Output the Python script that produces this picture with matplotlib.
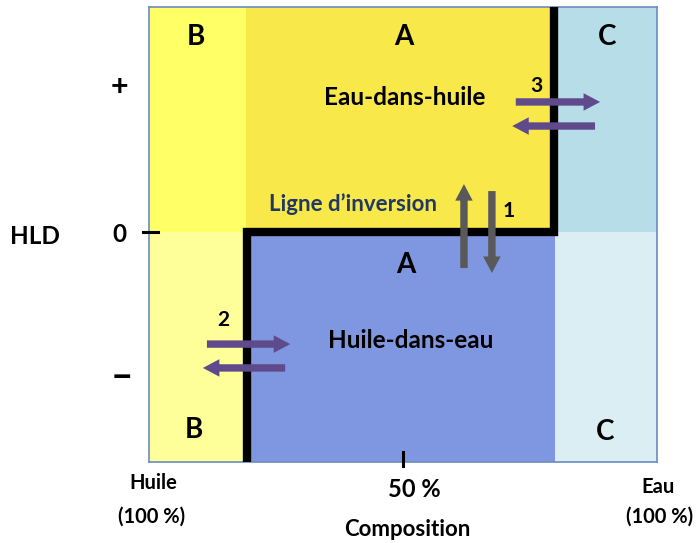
import matplotlib
matplotlib.use("Agg")
import matplotlib.pyplot as plt

plt.rcParams['font.family'] = ['Lato', 'DejaVu Sans']
plt.rcParams['font.weight'] = 'bold'

# Composition axis (0 = 100 % oil, 100 = 100 % water), HLD axis (-1 .. 1)
x_min, x_max = 0, 100
y_min, y_max = -1.022, 1.0
x_ba = 19.0     # B / A boundary
x_ac = 80.0     # A / C boundary

# inversion line (thick black)
inv_x = [79.8, 79.8, 19.35, 19.35]
inv_y = [y_max, 0.0, 0.0, y_min]

# regions: (x0, x1, y0, y1, colour)
regions = [
    (x_min, x_ba, 0.0, y_max, "#FFFF66"),
    (x_ba, x_ac, 0.0, y_max, "#F8E84A"),
    (x_ac, x_max, 0.0, y_max, "#B7DDE8"),
    (x_min, x_ba, y_min, 0.0, "#FFFF99"),
    (x_ba, x_ac, y_min, 0.0, "#7F96E0"),
    (x_ac, x_max, y_min, 0.0, "#DAEEF3"),
]

region_letters = ["B", "A", "C", "A", "B", "C"]
letter_x = [9.25, 50.2, 90.2, 50.6, 8.9, 89.8]
letter_y = [0.867, 0.867, 0.867, -0.147, -0.88, -0.889]

# arrows: (x_start, y_start, x_end, y_end, colour)
gray = "#595959"
purple = "#5F4B8B"
arrows = [
    (62.0, -0.16, 62.0, 0.213, gray),
    (67.5, 0.182, 67.5, -0.182, gray),
    (72.2, 0.578, 88.8, 0.578, purple),
    (87.8, 0.471, 71.5, 0.471, purple),
    (11.4, -0.498, 27.8, -0.498, purple),
    (26.8, -0.604, 10.6, -0.604, purple),
]
arrow_labels = ["1", "3", "2"]
arrow_label_x = [70.7, 76.2, 14.6]
arrow_label_y = [0.093, 0.649, -0.391]

fig = plt.figure(figsize=(6.99, 5.43), dpi=100)
ax = fig.add_axes([149 / 699, (543 - 462) / 543, 508 / 699, 455 / 543])
ax.set_xlim(x_min, x_max)
ax.set_ylim(y_min, y_max)
ax.set_xticks([])
ax.set_yticks([])
for s in ax.spines.values():
    s.set_color("#6A8CC0")
    s.set_linewidth(1.2)

for x0, x1, y0, y1, c in regions:
    ax.fill_between([x0, x1], y0, y1, color=c, lw=0, zorder=1)

ax.plot(inv_x, inv_y, color="black", lw=6, solid_joinstyle="miter",
        solid_capstyle="butt", zorder=3)

for t, x, y in zip(region_letters, letter_x, letter_y):
    ax.text(x, y, t, ha="center", va="center", fontsize=20, zorder=5)

ax.text(50.4, 0.6, "Eau-dans-huile", ha="center", va="center", fontsize=17.5, zorder=5)
ax.text(51.6, -0.484, "Huile-dans-eau", ha="center", va="center", fontsize=17.5, zorder=5)
ax.text(40.2, 0.124, "Ligne d\u2019inversion", ha="center", va="center",
        fontsize=16, color="#1F3864", zorder=5)

for x0, y0, x1, y1, c in arrows:
    ax.annotate("", xy=(x1, y1), xytext=(x0, y0),
                arrowprops=dict(arrowstyle="simple,head_length=0.85,head_width=0.9,tail_width=0.38",
                                mutation_scale=14, color=c, shrinkA=0, shrinkB=0, lw=0),
                zorder=6)

for t, x, y in zip(arrow_labels, arrow_label_x, arrow_label_y):
    ax.text(x, y, t, ha="center", va="center", fontsize=15, zorder=6)

# HLD axis labels
ax.text(-22.4, -0.02, "HLD", ha="center", va="center", fontsize=17.5, clip_on=False)
ax.text(-5.9, -0.009, "0", ha="center", va="center", fontsize=17.5, clip_on=False)
ax.text(-5.9, 0.644, "+", ha="center", va="center", fontsize=22, clip_on=False)
ax.text(-5.3, -0.644, "\u2013", ha="center", va="center", fontsize=28, clip_on=False)
ax.plot([-1.2, 1.8], [0, 0], color="black", lw=2.2, clip_on=False, zorder=7)

# composition axis labels
ax.plot([50, 50], [-0.978, -1.04], color="black", lw=2.2, clip_on=False, zorder=7)
ax.text(0.8, -1.116, "Huile", ha="center", va="center", fontsize=14.5, clip_on=False)
ax.text(0.6, -1.267, "(100 %)", ha="center", va="center", fontsize=14.5, clip_on=False)
ax.text(52.2, -1.142, "50 %", ha="center", va="center", fontsize=17, clip_on=False)
ax.text(50.8, -1.324, "Composition", ha="center", va="center", fontsize=16, clip_on=False)
ax.text(100.2, -1.133, "Eau", ha="center", va="center", fontsize=14.5, clip_on=False)
ax.text(100.6, -1.267, "(100 %)", ha="center", va="center", fontsize=14.5, clip_on=False)

fig.savefig("out.png", dpi=100)
